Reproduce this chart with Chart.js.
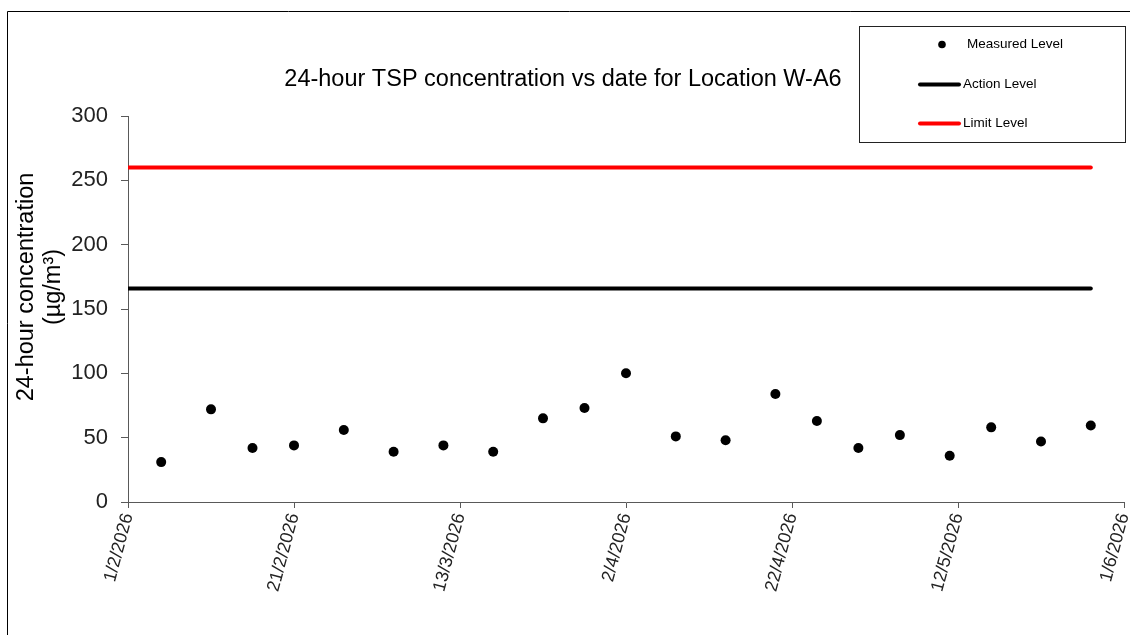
<!DOCTYPE html>
<html>
<head>
<meta charset="utf-8">
<script src="https://cdn.jsdelivr.net/npm/chart.js@4.4.1/dist/chart.umd.min.js"></script>
<style>
  html, body { margin: 0; padding: 0; background: #fff; }
  canvas { display: block; }
</style>
</head>
<body>
<canvas id="c" width="1130" height="635"></canvas>
<script>
// sampling dates (d/m/yyyy) and measured 24-hour TSP, µg/m³
const measureDates = ['5/2/2026', '11/2/2026', '16/2/2026', '21/2/2026', '27/2/2026', '5/3/2026', '11/3/2026',
  '17/3/2026', '23/3/2026', '28/3/2026', '2/4/2026', '8/4/2026', '14/4/2026', '20/4/2026', '25/4/2026',
  '30/4/2026', '5/5/2026', '11/5/2026', '16/5/2026', '22/5/2026', '28/5/2026']
const measuredTSP = [31, 72, 42, 44, 56, 39, 44, 39, 65, 73, 100, 51, 48, 84, 63, 42, 52, 36, 58, 47, 59.5]
const actionLevel = 166
const limitLevel = 260
const levelSpan = ['1/2/2026', '28/5/2026']
const xAxisRange = ['1/2/2026', '1/6/2026']
const xTickStepDays = 20
const yTicks = [0, 50, 100, 150, 200, 250, 300]

const FONT = '"Liberation Sans", Arial, sans-serif'
const DAY = 86400000

function parseDate(s) {
  const [d, m, y] = s.split('/').map(Number)
  return Date.UTC(y, m - 1, d)
}
const origin = parseDate(xAxisRange[0])
const toDay = (s) => Math.round((parseDate(s) - origin) / DAY)
const dayLabel = (n) => {
  const dt = new Date(origin + n * DAY)
  return `${dt.getUTCDate()}/${dt.getUTCMonth() + 1}/${dt.getUTCFullYear()}`
}

const measuredPts = measureDates.map((d, i) => ({ x: toDay(d), y: measuredTSP[i] }))
const levelLine = (v) => levelSpan.map((d) => ({ x: toDay(d), y: v }))

const decorations = {
  id: 'decorations',
  afterDraw(chart) {
    const ctx = chart.ctx
    ctx.save()

    // outer frame (only top and left edges visible)
    ctx.strokeStyle = '#000'
    ctx.lineWidth = 1
    ctx.beginPath()
    ctx.moveTo(7.5, 640)
    ctx.lineTo(7.5, 11.5)
    ctx.lineTo(1140, 11.5)
    ctx.stroke()

    // title
    ctx.fillStyle = '#000'
    ctx.font = `23.5px ${FONT}`
    ctx.textAlign = 'center'
    ctx.textBaseline = 'alphabetic'
    ctx.fillText('24-hour TSP concentration vs date for Location W-A6', 563, 86)

    // y axis title
    ctx.save()
    ctx.translate(0, 287)
    ctx.rotate(-Math.PI / 2)
    ctx.textBaseline = 'middle'
    ctx.font = `23.5px ${FONT}`
    ctx.fillText('24-hour concentration', 0, 27)
    ctx.fillText('(µg/m³)', 0, 54)
    ctx.restore()

    // legend box
    ctx.strokeStyle = '#222'
    ctx.lineWidth = 1
    ctx.strokeRect(859.5, 26.5, 266, 116)

    ctx.font = `13.5px ${FONT}`
    ctx.textAlign = 'left'
    ctx.textBaseline = 'middle'
    ctx.fillStyle = '#000'

    ctx.beginPath()
    ctx.arc(942, 44.5, 3.8, 0, Math.PI * 2)
    ctx.fill()
    ctx.fillText(chart.data.datasets[0].label, 967, 44.5)

    const legendLines = [[chart.data.datasets[1], 84.5], [chart.data.datasets[2], 123.5]]
    legendLines.forEach(([ds, y]) => {
      ctx.strokeStyle = ds.borderColor
      ctx.lineWidth = 4
      ctx.lineCap = 'round'
      ctx.beginPath()
      ctx.moveTo(920, y)
      ctx.lineTo(959, y)
      ctx.stroke()
      ctx.fillStyle = '#000'
      ctx.fillText(ds.label, 963, y)
    })

    ctx.restore()
  },
}

new Chart(document.getElementById('c').getContext('2d'), {
  type: 'scatter',
  data: {
    datasets: [
      {
        label: 'Measured Level',
        data: measuredPts,
        showLine: false,
        pointRadius: 5,
        pointBackgroundColor: '#000',
        pointBorderColor: '#000',
        pointBorderWidth: 0,
      },
      {
        label: 'Action Level',
        data: levelLine(actionLevel),
        showLine: true,
        borderColor: '#000',
        borderWidth: 4,
        borderCapStyle: 'round',
        pointRadius: 0,
      },
      {
        label: 'Limit Level',
        data: levelLine(limitLevel),
        showLine: true,
        borderColor: '#ff0000',
        borderWidth: 4,
        borderCapStyle: 'round',
        pointRadius: 0,
      },
    ],
  },
  options: {
    responsive: false,
    animation: false,
    devicePixelRatio: 1,
    layout: { padding: { left: 0, right: 6, top: 116, bottom: 0 } },
    plugins: {
      legend: { display: false },
      title: { display: false },
      tooltip: { enabled: false },
    },
    scales: {
      x: {
        type: 'linear',
        min: 0,
        max: toDay(xAxisRange[1]),
        afterBuildTicks(scale) {
          const ticks = []
          for (let v = scale.min; v <= scale.max; v += xTickStepDays) ticks.push({ value: v })
          scale.ticks = ticks
        },
        afterFit(scale) {
          scale.height = 133
          scale.paddingLeft = 0
          scale.paddingRight = 0
        },
        grid: { display: true, drawOnChartArea: false, drawTicks: true, tickLength: 6, color: '#595959' },
        border: { display: true, color: '#595959', width: 1 },
        ticks: {
          minRotation: 75,
          maxRotation: 75,
          padding: 3,
          color: '#222',
          font: { family: FONT, size: 18 },
          callback: (v) => dayLabel(v),
        },
      },
      y: {
        min: yTicks[0],
        max: yTicks[yTicks.length - 1],
        afterBuildTicks(scale) {
          scale.ticks = yTicks.map((v) => ({ value: v }))
        },
        afterFit(scale) {
          scale.width = 128
        },
        grid: { display: true, drawOnChartArea: false, drawTicks: true, tickLength: 7, color: '#595959' },
        border: { display: true, color: '#595959', width: 1 },
        ticks: {
          padding: 13,
          color: '#222',
          font: { family: FONT, size: 22 },
        },
      },
    },
  },
  plugins: [decorations],
})
</script>
</body>
</html>
